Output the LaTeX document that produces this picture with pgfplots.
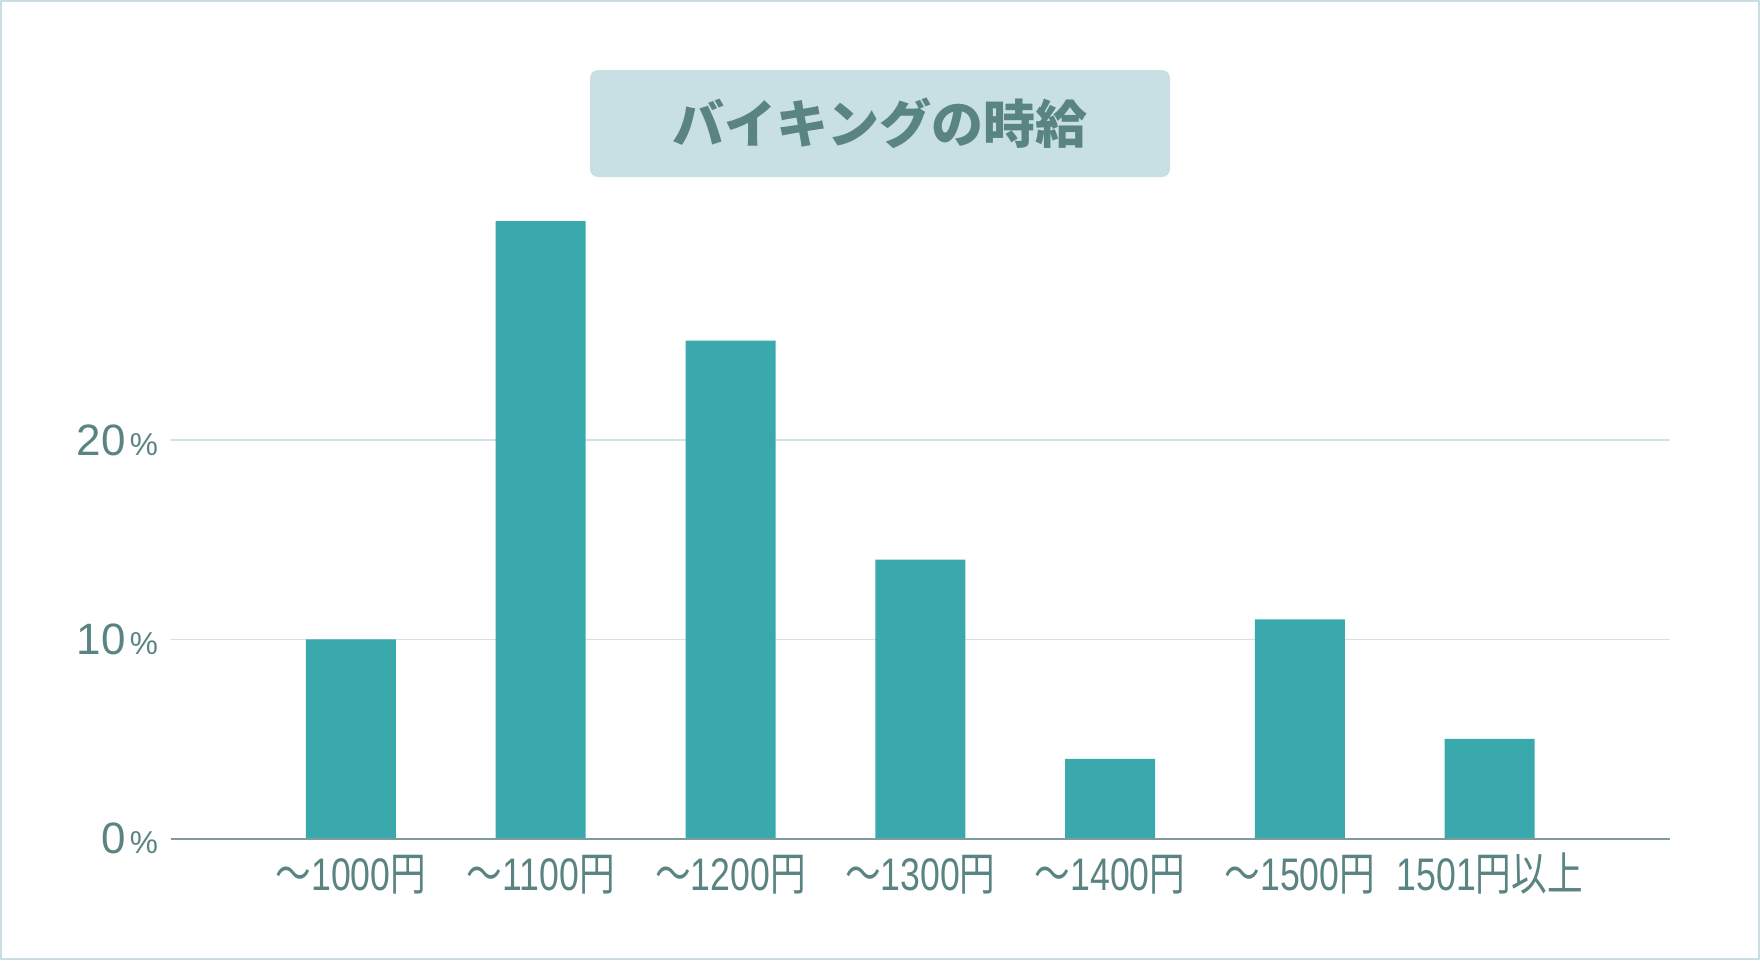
\documentclass[border=0pt]{standalone}
\usepackage{pgfplots}
\pgfplotsset{compat=1.18}
\usepackage{graphicx}
\usepackage{fontspec}
\setmainfont{Liberation Sans}
\newfontfamily\cjk{Noto Sans CJK JP}
\definecolor{barc}{RGB}{58,169,174}
\definecolor{txt}{RGB}{90,132,130}
\definecolor{tbox}{RGB}{200,224,227}
\definecolor{gridc}{RGB}{210,226,227}
\definecolor{basec}{RGB}{125,156,158}
\definecolor{borderc}{RGB}{200,222,226}
\newcommand{\xl}[1]{\scalebox{0.78}[1]{#1}}
\newcommand{\pc}{\hspace{0.4mm}{\fontsize{9}{9}\selectfont\%}}
\begin{document}
\begin{tikzpicture}
\fill[white] (0,0) rectangle (176mm,96mm);
\useasboundingbox (0,0) rectangle (176mm,96mm);
\draw[borderc, line width=0.2mm] (0.1mm,0.1mm) rectangle (175.9mm,95.9mm);
\node[fill=tbox, rounded corners=0.8mm, minimum width=58mm, minimum height=10.7mm, inner sep=0pt, text=txt]
  at (88mm,83.65mm) {\cjk\bfseries\fontsize{14.8}{14.8}\selectfont バイキングの時給};
\begin{axis}[
  at={(17.06mm,12.15mm)}, anchor=south west,
  scale only axis, width=149.94mm, height=63.74mm,
  xmin=-0.95, xmax=6.95, ymin=0, ymax=32,
  axis line style={draw=none},
  major tick length=0pt,
  ytick={0,10,20},
  yticklabels={0\pc,10\pc,20\pc},
  yticklabel style={font=\fontsize{12.5}{12.5}\selectfont, text=txt, anchor=east, inner sep=0pt, xshift=-1.2mm},
  xtick={0,1,2,3,4,5,6},
  xticklabels={
    \xl{{\cjk ～}1000{\cjk 円}},
    \xl{{\cjk ～}1100{\cjk 円}},
    \xl{{\cjk ～}1200{\cjk 円}},
    \xl{{\cjk ～}1300{\cjk 円}},
    \xl{{\cjk ～}1400{\cjk 円}},
    \xl{{\cjk ～}1500{\cjk 円}},
    \xl{1501{\cjk 円以上}}},
  xticklabel style={font=\fontsize{13}{13}\selectfont, text=txt, anchor=base, inner sep=0pt, yshift=-5.15mm},
  ymajorgrids, grid style={gridc, line width=0.15mm},
  clip=false,
]
\addplot[ybar, bar width=9mm, fill=barc, draw=none] coordinates {
  (0,10) (1,31) (2,25) (3,14) (4,4) (5,11) (6,5)
};
\draw[basec, line width=0.2mm] (rel axis cs:0,0) -- (rel axis cs:1,0);
\end{axis}
\end{tikzpicture}
\end{document}
